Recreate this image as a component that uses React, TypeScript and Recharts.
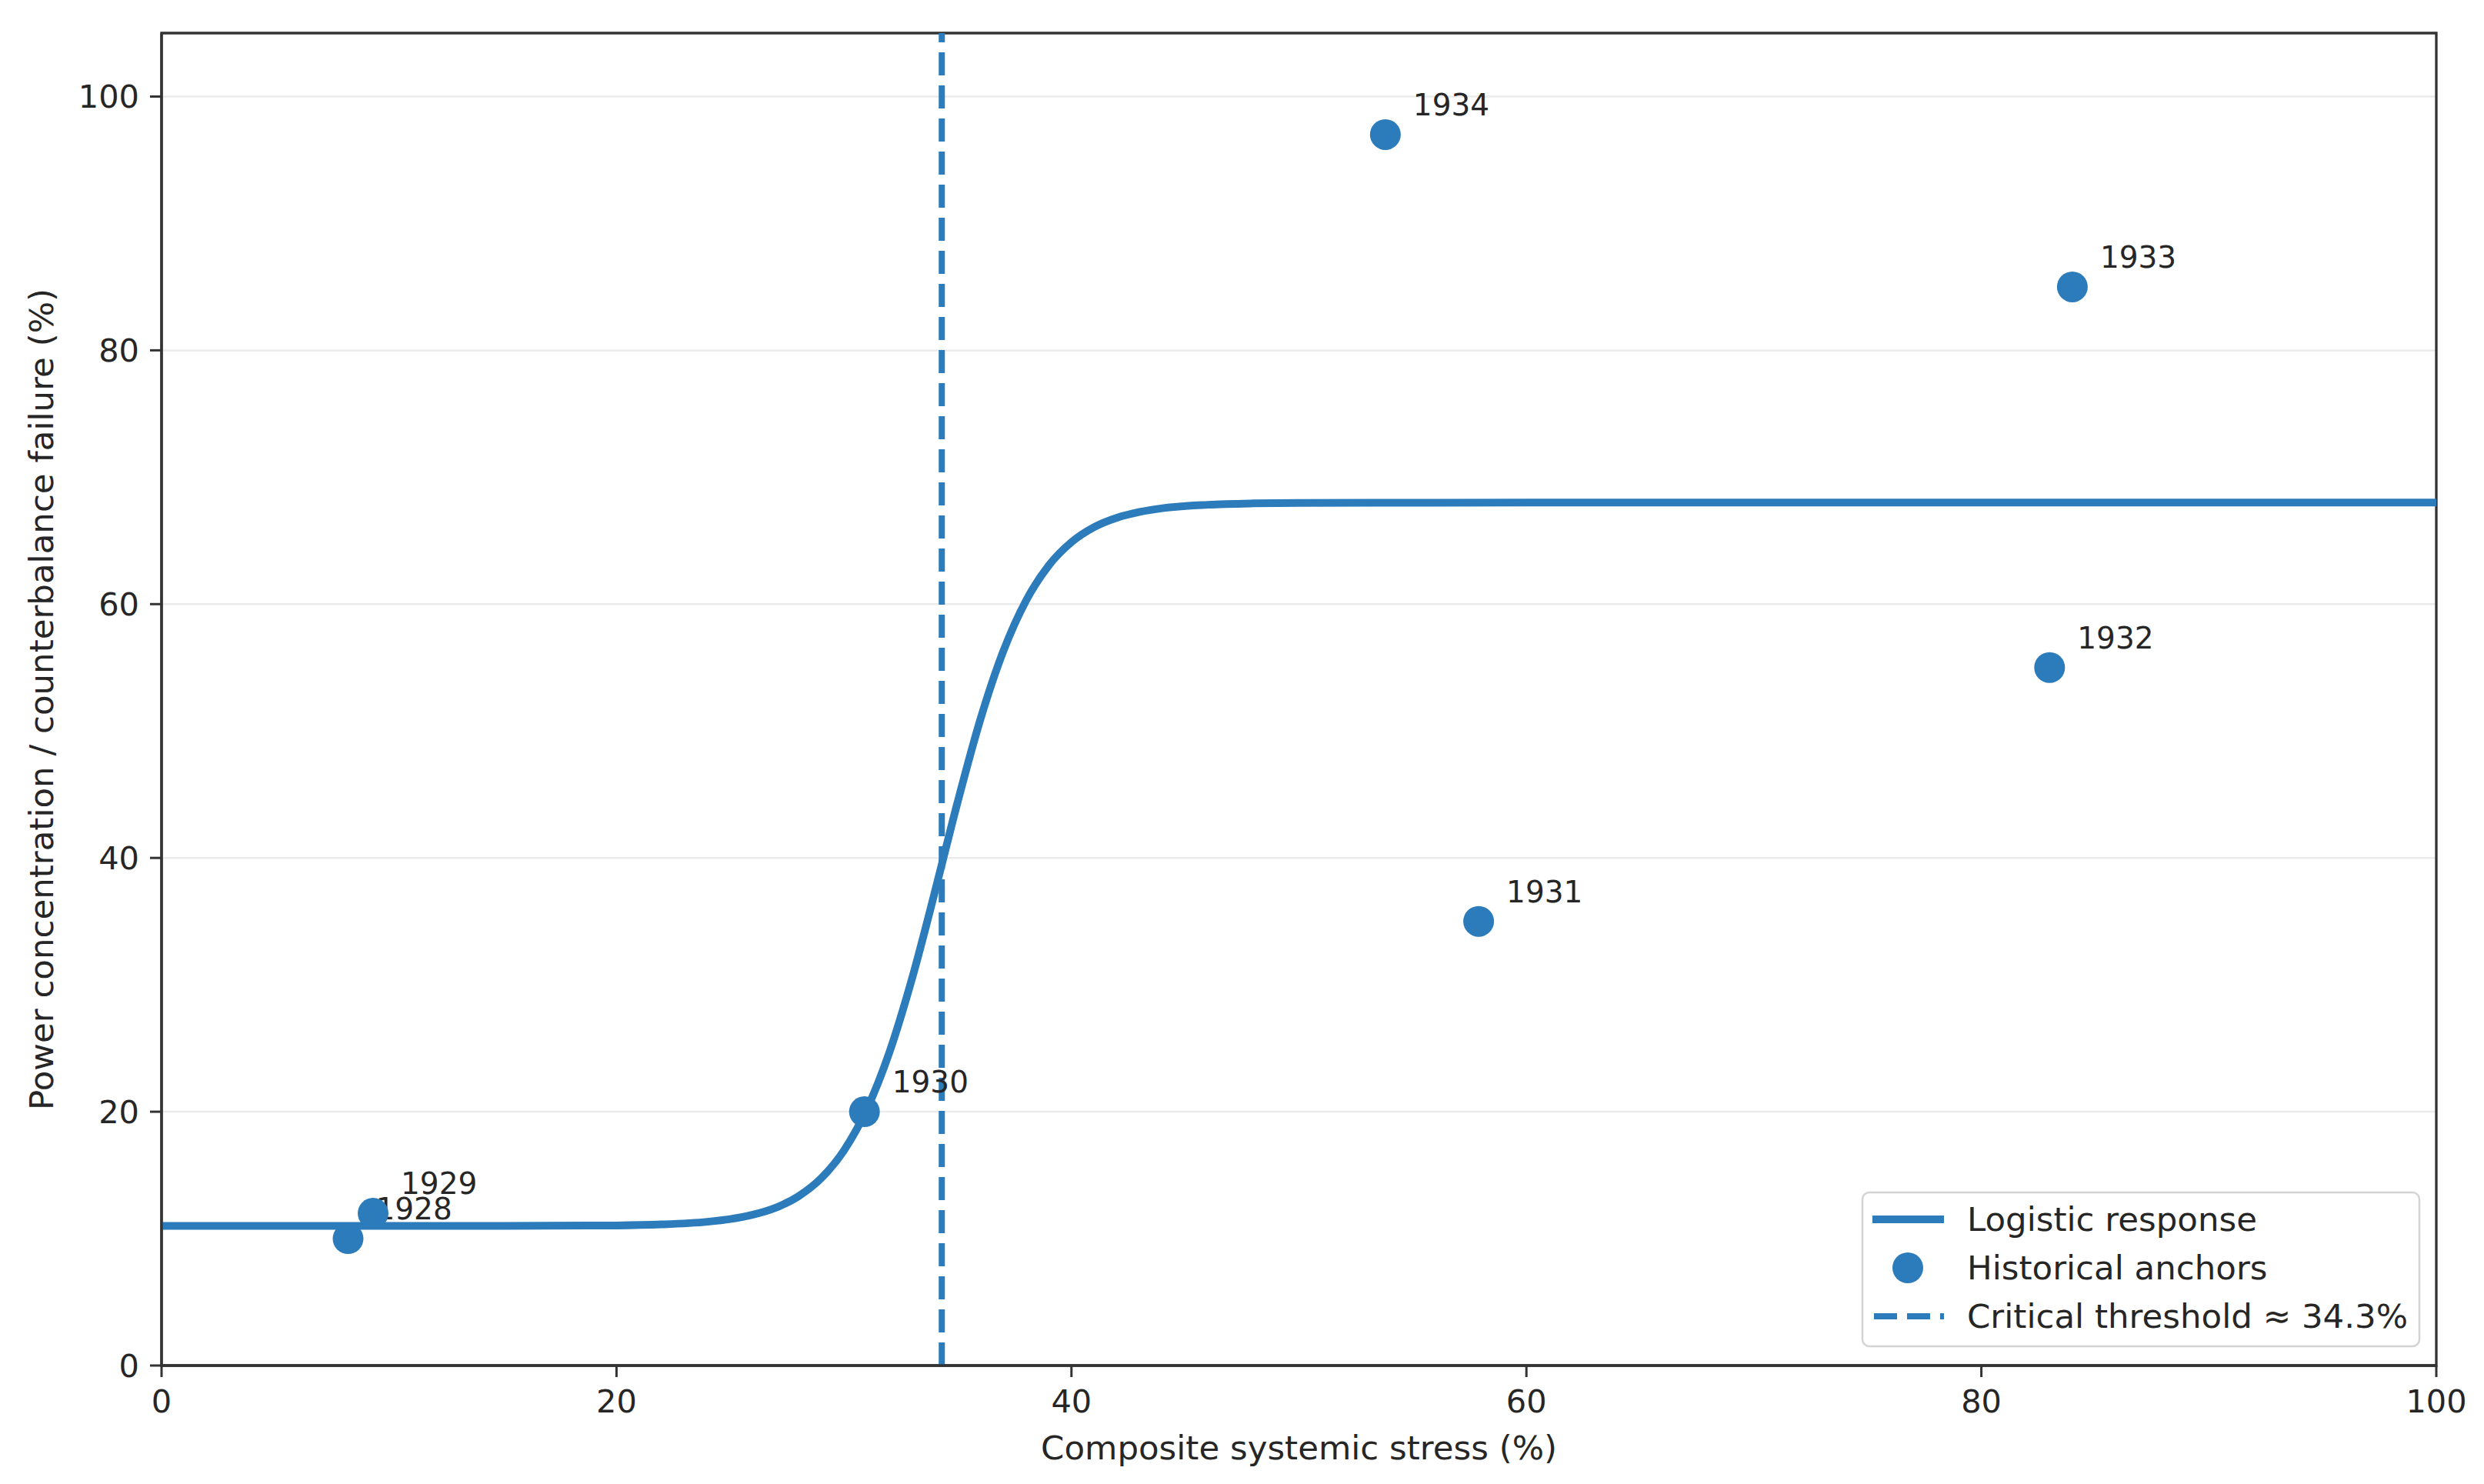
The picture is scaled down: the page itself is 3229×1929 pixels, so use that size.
import React from 'react';
import {
  ComposedChart,
  Line,
  Scatter,
  XAxis,
  YAxis,
  CartesianGrid,
  ReferenceLine,
  ReferenceArea,
  Legend,
} from 'recharts';

// Logistic response curve
const curveX = [0, 5, 10, 15, 20, 22, 24, 25, 26, 27, 28, 29, 30, 31, 32, 33, 34, 35, 36, 37, 38, 39, 40, 41, 42, 43, 44, 46, 48, 50, 60, 70, 80, 90, 100];
const curveY = [11.0, 11.0, 11.0, 11.0, 11.04, 11.12, 11.33, 11.54, 11.89, 12.44, 13.34, 14.76, 16.95, 20.18, 24.7, 30.55, 37.36, 44.43, 50.94, 56.27, 60.26, 63.04, 64.88, 66.07, 66.81, 67.27, 67.56, 67.83, 67.94, 67.98, 68, 68, 68, 68, 68];

// Historical anchors
const anchorYears = ['1928', '1929', '1930', '1931', '1932', '1933', '1934'];
const anchorX = [8.2, 9.3, 30.9, 57.9, 83.0, 84.0, 53.8];
const anchorY = [10, 12, 20, 35, 55, 85, 97];

const threshold = 34.3;

const xTicks = [0, 20, 40, 60, 80, 100];
const yTicks = [0, 20, 40, 60, 80, 100];

const legendLabels = ['Logistic response', 'Historical anchors', 'Critical threshold \u2248 34.3%'];

const curveData = curveX.map((x, i) => ({ x, y: curveY[i] }));
const anchorData = anchorX.map((x, i) => ({ x, y: anchorY[i], year: anchorYears[i] }));

const BLUE = '#2c7bbb';
const INK = '#262626';
const FONT = '"DejaVu Sans", sans-serif';

const AnchorShape = (props: any) => {
  const { cx, cy, payload } = props;
  if (cx == null || cy == null) return null;
  return (
    <g>
      <circle cx={cx} cy={cy} r={20} fill={BLUE} />
      <text x={cx + 36} y={cy - 25} fontSize={39} fill={INK} fontFamily={FONT}>
        {payload.year}
      </text>
    </g>
  );
};

const LegendBox = () => (
  <svg width={730} height={206} style={{ display: 'block' }}>
    <rect x={2} y={2} width={724} height={200} rx={9} ry={9} fill="#ffffff" fillOpacity={0.85} stroke="#d4d4d4" strokeWidth={2.5} />
    <line x1={15} y1={37} x2={108} y2={37} stroke={BLUE} strokeWidth={10} />
    <text x={138} y={37} dominantBaseline="central" fontSize={43.5} fill={INK} fontFamily={FONT}>{legendLabels[0]}</text>
    <circle cx={61} cy={100} r={20} fill={BLUE} />
    <text x={138} y={100} dominantBaseline="central" fontSize={43.5} fill={INK} fontFamily={FONT}>{legendLabels[1]}</text>
    <line x1={17} y1={163} x2={108} y2={163} stroke={BLUE} strokeWidth={8} strokeDasharray="30 13" />
    <text x={138} y={163} dominantBaseline="central" fontSize={43.5} fill={INK} fontFamily={FONT}>{legendLabels[2]}</text>
  </svg>
);

export default function App() {
  return (
    <div style={{ position: 'absolute', left: 0, top: 0, width: 3229, height: 1929, background: '#ffffff' }}>
      <ComposedChart
        width={3229}
        height={1929}
        margin={{ top: 43, right: 62, bottom: 0, left: 0 }}
        style={{ fontFamily: FONT }}
      >
        <CartesianGrid vertical={false} stroke="#ebebeb" strokeWidth={2.5} />
        <XAxis
          type="number"
          dataKey="x"
          domain={[0, 100]}
          ticks={xTicks}
          allowDataOverflow
          height={154}
          tickSize={15}
          tickMargin={17}
          axisLine={{ stroke: '#333333', strokeWidth: 3.3 }}
          tickLine={{ stroke: '#333333', strokeWidth: 3 }}
          tick={{ fill: INK, fontSize: 41.5, fontFamily: FONT }}
          label={{
            content: (p: any) => {
              const vb = p.viewBox || {};
              return (
                <text x={vb.x + vb.width / 2} y={vb.y + 107} textAnchor="middle" dominantBaseline="central" fontSize={43.5} fill={INK} fontFamily={FONT}>
                  Composite systemic stress (%)
                </text>
              );
            },
          }}
        />
        <YAxis
          type="number"
          domain={[0, 105]}
          ticks={yTicks}
          allowDataOverflow
          width={210}
          tickSize={15}
          tickMargin={14}
          axisLine={{ stroke: '#333333', strokeWidth: 3.3 }}
          tickLine={{ stroke: '#333333', strokeWidth: 3 }}
          tick={{ fill: INK, fontSize: 41.5, fontFamily: FONT }}
          label={{
            content: (p: any) => {
              const vb = p.viewBox || {};
              const cx = 54;
              const cy = vb.y + vb.height / 2;
              return (
                <text x={cx} y={cy} transform={`rotate(-90, ${cx}, ${cy})`} textAnchor="middle" dominantBaseline="central" fontSize={43.5} fill={INK} fontFamily={FONT}>
                  Power concentration / counterbalance failure (%)
                </text>
              );
            },
          }}
        />
        <ReferenceArea x1={0} x2={100} y1={0} y2={105} fill="none" fillOpacity={0} stroke="#333333" strokeWidth={3.3} />
        <Line
          data={curveData}
          dataKey="y"
          type="monotone"
          stroke={BLUE}
          strokeWidth={10}
          dot={false}
          activeDot={false}
          isAnimationActive={false}
        />
        <ReferenceLine x={threshold} stroke={BLUE} strokeWidth={8} strokeDasharray="30 13" />
        <Scatter
          data={anchorData}
          dataKey="y"
          fill={BLUE}
          shape={AnchorShape}
          isAnimationActive={false}
        />
        <Legend
          layout="vertical"
          align="center"
          verticalAlign="middle"
          wrapperStyle={{ left: 2419, top: 1548, width: 730, height: 206, right: 'auto', bottom: 'auto' }}
          content={() => <LegendBox />}
        />
      </ComposedChart>
    </div>
  );
}
